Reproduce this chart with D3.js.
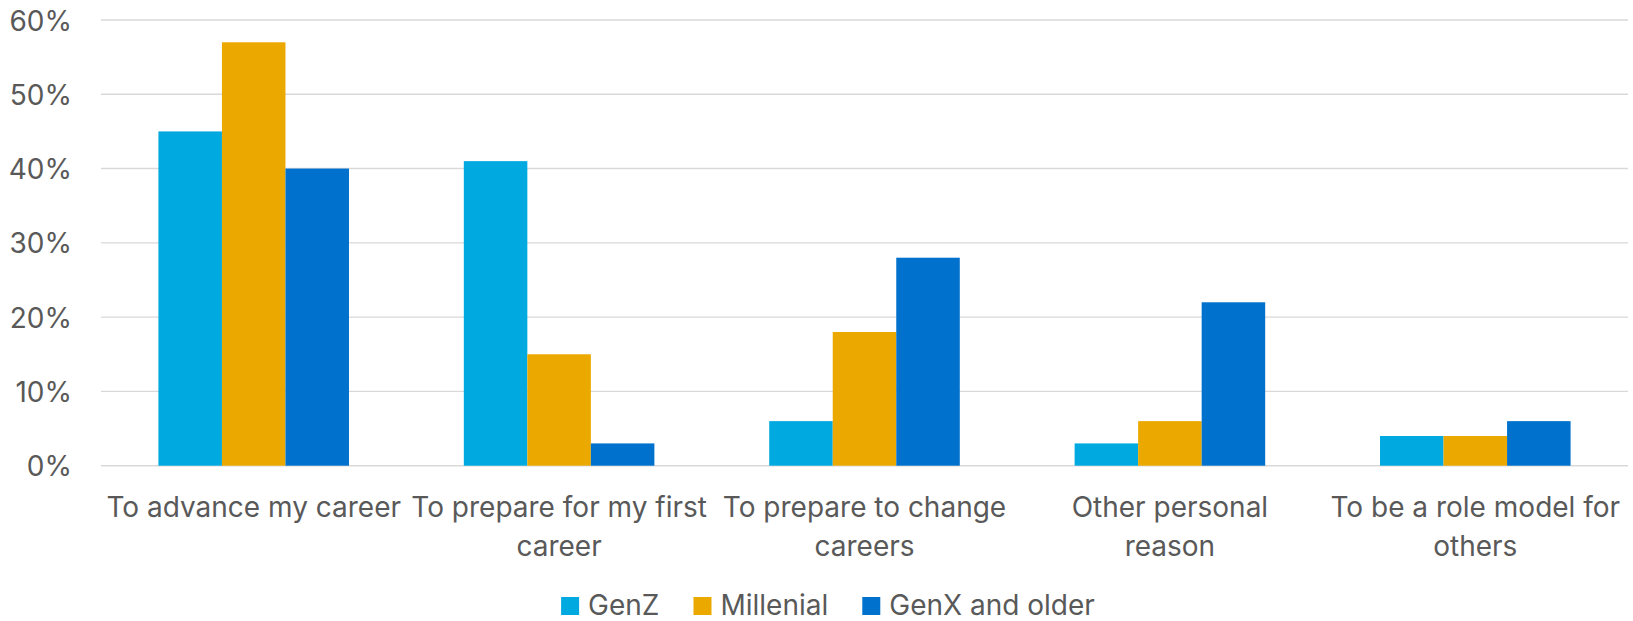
<!DOCTYPE html>
<html>
<head>
<meta charset="utf-8">
<script src="https://cdn.jsdelivr.net/npm/d3@7"></script>
<style>
  html, body { margin: 0; padding: 0; background: #ffffff; }
  svg { display: block; }
  text { font-family: Inter, "Liberation Sans", Arial, sans-serif; fill: #595959; }
</style>
</head>
<body>
<svg id="chart" width="1633" height="621"></svg>
<script>
// Reasons for pursuing training, by generation (share of respondents)
// Each category label is given as the lines it is shown on.
const categoryLines = [
  ["To advance my career"],
  ["To prepare for my first", "career"],
  ["To prepare to change", "careers"],
  ["Other personal", "reason"],
  ["To be a role model for", "others"]
];
const categories = categoryLines.map(l => l.join(" "));
const seriesNames = ["GenZ", "Millenial", "GenX and older"];
const genZ      = [0.45, 0.41, 0.06, 0.03, 0.04];
const millenial = [0.57, 0.15, 0.18, 0.06, 0.04];
const genX      = [0.40, 0.03, 0.28, 0.22, 0.06];
const yTicks = [0, 0.1, 0.2, 0.3, 0.4, 0.5, 0.6];
const colors = ["#00a9e0", "#eba900", "#0072ce"];

const seriesValues = [genZ, millenial, genX];

const svg = d3.select("#chart");
const plot = { left: 101, right: 1628, top: 20, bottom: 465.7 };
const fontSize = 28;

const x0 = d3.scaleBand()
  .domain(categories)
  .range([plot.left, plot.right])
  .paddingInner(0.376)
  .paddingOuter(0.188);

const x1 = d3.scaleBand()
  .domain(seriesNames)
  .range([0, x0.bandwidth()])
  .padding(0);

const y = d3.scaleLinear()
  .domain([0, 0.6])
  .range([plot.bottom, plot.top]);

const color = d3.scaleOrdinal().domain(seriesNames).range(colors);

// horizontal gridlines
svg.append("g")
  .selectAll("line")
  .data(yTicks)
  .join("line")
  .attr("x1", plot.left)
  .attr("x2", plot.right)
  .attr("y1", d => y(d))
  .attr("y2", d => y(d))
  .attr("stroke", "#d9d9d9")
  .attr("stroke-width", 1.4);

// y axis labels
const yAxis = d3.axisLeft(y)
  .tickValues(yTicks)
  .tickFormat(d3.format(".0%"))
  .tickSize(0)
  .tickPadding(29);

svg.append("g")
  .attr("transform", `translate(${plot.left},0)`)
  .call(yAxis)
  .call(g => g.select(".domain").remove())
  .call(g => g.selectAll("text")
    .attr("font-size", fontSize)
    .attr("fill", "#595959")
    .attr("font-family", null)
    .attr("dy", "0.36em"));

// grouped bars
const rows = categories.map((c, i) => ({
  category: c,
  values: seriesNames.map((s, j) => ({ series: s, value: seriesValues[j][i] }))
}));

svg.append("g")
  .selectAll("g")
  .data(rows)
  .join("g")
  .attr("transform", d => `translate(${x0(d.category)},0)`)
  .selectAll("rect")
  .data(d => d.values)
  .join("rect")
  .attr("x", d => x1(d.series))
  .attr("width", x1.bandwidth())
  .attr("y", d => y(d.value))
  .attr("height", d => y(0) - y(d.value))
  .attr("fill", d => color(d.series));

// category labels, one tspan per line
const xAxis = d3.axisBottom(x0).tickSize(0).tickPadding(0);
const xg = svg.append("g")
  .attr("transform", `translate(0,${plot.bottom})`)
  .call(xAxis)
  .call(g => g.select(".domain").remove());

xg.selectAll("text")
  .attr("font-size", fontSize)
  .attr("fill", "#595959")
  .attr("font-family", null)
  .attr("dy", null)
  .attr("y", 0)
  .each(function (d) {
    const t = d3.select(this);
    const lines = categoryLines[categories.indexOf(d)];
    t.text(null);
    lines.forEach((l, k) => {
      t.append("tspan")
        .attr("x", 0)
        .attr("y", 51 + k * 39)
        .text(l);
    });
  });

// legend
const legend = svg.append("g");
const items = legend.selectAll("g")
  .data(seriesNames)
  .join("g");
items.append("rect")
  .attr("width", 18)
  .attr("height", 18)
  .attr("y", -18)
  .attr("fill", d => color(d));
items.append("text")
  .attr("x", 27)
  .attr("y", 0)
  .attr("font-size", fontSize)
  .text(d => d);

let cursor = 0;
items.each(function () {
  const g = d3.select(this);
  g.attr("transform", `translate(${cursor},0)`);
  cursor += 27 + g.select("text").node().getComputedTextLength() + 34;
});
const legendWidth = cursor - 34;
legend.attr("transform", `translate(${828 - legendWidth / 2},615)`);
</script>
</body>
</html>
